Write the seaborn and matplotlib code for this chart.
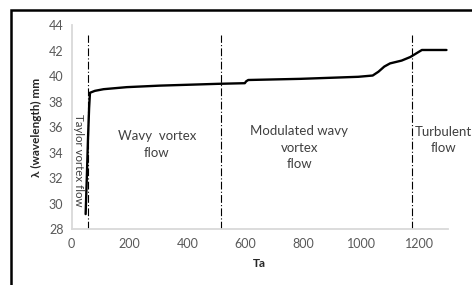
import matplotlib
matplotlib.use("Agg")
import matplotlib.pyplot as plt
import matplotlib.patches as mpatches
import pandas as pd
import seaborn as sns

# curve
ta = [48, 52, 56, 60, 63, 80, 110, 190, 305, 420, 505, 598, 603, 610,
      790, 990, 1040, 1060, 1080, 1100, 1140, 1170, 1210, 1295]
wavelength = [29.2, 32.0, 35.0, 37.5, 38.7, 38.85, 38.98, 39.14, 39.26, 39.34,
              39.4, 39.45, 39.6, 39.7, 39.79, 39.95, 40.05, 40.35, 40.75,
              41.0, 41.22, 41.5, 42.05, 42.05]

# regime boundaries (Ta)
boundaries = [55, 515, 1177]
x_ticks = [0, 200, 400, 600, 800, 1000, 1200]
y_ticks = [28, 30, 32, 34, 36, 38, 40, 42, 44]

sns.set_style("white")
plt.rcParams['font.family'] = ['Lato', 'DejaVu Sans']

df = pd.DataFrame({'Ta': ta, 'lam': wavelength})

fig = plt.figure(figsize=(4.72, 2.85), dpi=100)
ax = fig.add_axes([0.152, 0.195, 0.797, 0.717])

sns.lineplot(data=df, x='Ta', y='lam', ax=ax, color='black',
             linewidth=1.7, estimator=None, sort=False)

for b in boundaries:
    ax.plot([b, b], [28, 43.2], color='black', linewidth=0.8,
            linestyle=(0, (7, 2, 1, 2)))

ax.set_xlim(0, 1300)
ax.set_ylim(28, 44)
ax.set_xticks(x_ticks)
ax.set_yticks(y_ticks)
ax.tick_params(axis='both', length=0, labelsize=9, colors='#595959', pad=6)
ax.set_xlabel('Ta', fontsize=8.5, fontweight='bold', color='#262626', labelpad=6)
ax.set_ylabel('λ (wavelength) mm', fontsize=8.5, fontweight='bold',
              color='#262626', labelpad=5)

sns.despine(ax=ax)
for s in ['left', 'bottom']:
    ax.spines[s].set_color('#d9d9d9')
    ax.spines[s].set_linewidth(1.3)

txt = dict(color='#404040', ha='center', va='center', linespacing=1.45)
ax.text(23, 33.4, 'Taylor vortex flow', rotation=270, fontsize=8.3, **txt)
ax.text(294, 34.65, 'Wavy  vortex\nflow', fontsize=9.5, **txt)
ax.text(786, 34.4, 'Modulated wavy\nvortex\nflow', fontsize=9.5, **txt)
ax.text(1285, 35.0, 'Turbulent\nflow', fontsize=9.5, clip_on=False, **txt)

# outer frame, cut off at right and bottom like the source image
frame = mpatches.Rectangle((11 / 472, -0.2), 1.2, 1.2 - 10 / 285,
                           transform=fig.transFigure, fill=False,
                           edgecolor='black', linewidth=1.8, clip_on=False)
fig.patches.append(frame)

fig.savefig('out.png', dpi=100)
